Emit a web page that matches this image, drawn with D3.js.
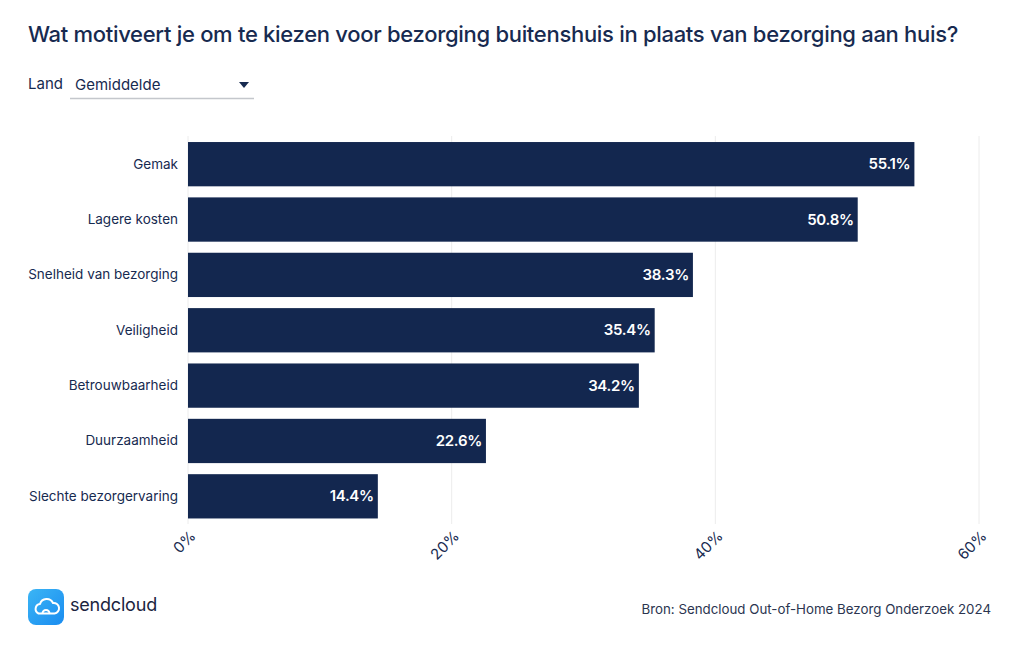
<!DOCTYPE html>
<html><head><meta charset="utf-8">
<script src="https://cdn.jsdelivr.net/npm/d3@7/dist/d3.min.js"></script>
<style>
body{margin:0;background:#fff;font-family:Inter,"Noto Sans",sans-serif;}
</style></head>
<body><svg id="c" width="1020" height="650"></svg>
<script>
const categories = ["Gemak","Lagere kosten","Snelheid van bezorging","Veiligheid","Betrouwbaarheid","Duurzaamheid","Slechte bezorgervaring"];
const values = [55.1,50.8,38.3,35.4,34.2,22.6,14.4];
const tickValues = [0,20,40,60];
const title = "Wat motiveert je om te kiezen voor bezorging buitenshuis in plaats van bezorging aan huis?";
const source = "Bron: Sendcloud Out-of-Home Bezorg Onderzoek 2024";

const svg = d3.select("#c");
const navy = "#13274f";
const x = d3.scaleLinear().domain([0,60]).range([188,979]);
const y = d3.scaleBand().domain(categories).range([136.5,524]).paddingInner(0.2).paddingOuter(0.1);

svg.append("text").attr("x",28).attr("y",42).attr("font-size",22).attr("fill","#172a50").attr("font-weight",500).attr("letter-spacing","-0.3").text(title);

// dropdown
svg.append("text").attr("x",28).attr("y",89).attr("font-size",15).attr("fill","#172a50").text("Land");
svg.append("text").attr("x",75).attr("y",90).attr("font-size",15).attr("fill","#172a50").text("Gemiddelde");
svg.append("path").attr("d","M239,82 L249,82 L244,88 Z").attr("fill","#172a50");
svg.append("line").attr("x1",70).attr("x2",254).attr("y1",98.5).attr("y2",98.5).attr("stroke","#c4c7cc").attr("stroke-width",1.5);

// grid
const g = svg.append("g");
g.selectAll("line.grid").data(tickValues).join("line")
  .attr("x1",d=>x(d)).attr("x2",d=>x(d)).attr("y1",136).attr("y2",524)
  .attr("stroke","#ececec").attr("stroke-width",1);

// x axis labels
const xa = svg.append("g").attr("transform","translate(0,524)")
  .call(d3.axisBottom(x).tickValues(tickValues).tickFormat(d=>d+"%").tickSize(0));
xa.select(".domain").remove();
xa.selectAll("text").attr("font-family","Inter,sans-serif").attr("font-size",15).attr("fill","#172a50")
  .attr("text-anchor","end").attr("dy",0).attr("dx",0)
  .attr("transform","translate(6,11) rotate(-45)");

// bars
g.selectAll("rect").data(values).join("rect")
  .attr("x",x(0)).attr("y",(d,i)=>y(categories[i]))
  .attr("width",d=>x(d)-x(0)).attr("height",y.bandwidth()).attr("fill",navy);

g.selectAll("text.val").data(values).join("text").attr("class","val")
  .attr("x",d=>x(d)-4).attr("y",(d,i)=>y(categories[i])+y.bandwidth()/2+5)
  .attr("text-anchor","end").attr("font-size",15).attr("font-weight",600).attr("fill","#fff").attr("letter-spacing","-0.3")
  .text(d=>d.toFixed(1)+"%");

// y axis labels
const ya = svg.append("g").attr("transform","translate(188,0)")
  .call(d3.axisLeft(y).tickSize(0).tickPadding(10));
ya.select(".domain").remove();
ya.selectAll("text").attr("font-family","Inter,sans-serif").attr("font-size",13.5).attr("fill","#172a50");

// logo
const defs = svg.append("defs");
const gr = defs.append("linearGradient").attr("id","lg").attr("x1","0").attr("y1","0").attr("x2","1").attr("y2","1");
gr.append("stop").attr("offset","0").attr("stop-color","#3bb5f5");
gr.append("stop").attr("offset","1").attr("stop-color","#1a8cf0");
svg.append("rect").attr("x",28).attr("y",589).attr("width",36).attr("height",36).attr("rx",8).attr("fill","url(#lg)");
svg.append("path")
  .attr("d","M38.5,613.5 a5,5 0 0 1 1.5,-9.5 a7,7 0 0 1 13,-1 a5,5 0 0 1 1.5,10.5 Z")
  .attr("fill","none").attr("stroke","#fff").attr("stroke-width",2).attr("stroke-linejoin","round");
svg.append("path").attr("d","M42.5,613.5 a3.5,3.5 0 0 1 7,0").attr("fill","none").attr("stroke","#fff").attr("stroke-width",2);
svg.append("text").attr("x",70).attr("y",611).attr("font-size",18).attr("fill","#1b2440").attr("font-weight",400).attr("letter-spacing","-0.2").text("sendcloud");

svg.append("text").attr("x",991).attr("y",614).attr("text-anchor","end").attr("font-size",13.3).attr("fill","#2b3550").text(source);
</script></body></html>
